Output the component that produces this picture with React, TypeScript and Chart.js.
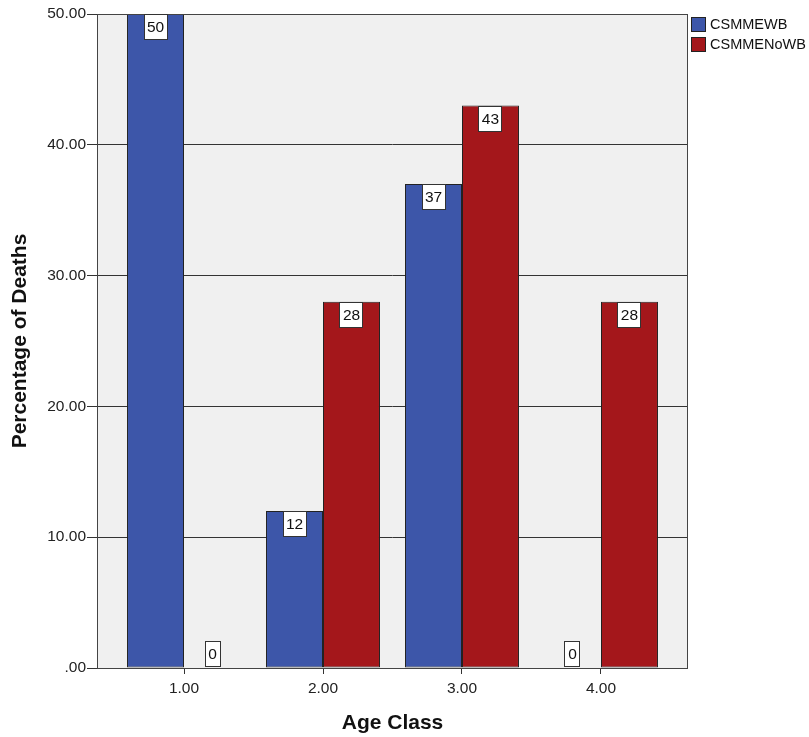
import React, { useEffect, useRef } from "react";
import { Chart, registerables } from "chart.js";

Chart.register(...registerables);

const categories = [1, 2, 3, 4];
const csmmewb = [50, 12, 37, 0];
const csmmenowb = [0, 28, 43, 28];
const seriesNames = ["CSMMEWB", "CSMMENoWB"];
const seriesColors = ["#3d56a9", "#a4171b"];
const yTicks = [0, 10, 20, 30, 40, 50];

const FONT = 'Arial, "Liberation Sans", sans-serif';

const plotPlugin = {
  id: "plotDecor",
  beforeDraw(chart: any) {
    const { ctx, chartArea: a } = chart;
    ctx.save();
    ctx.fillStyle = "#f0f0f0";
    ctx.fillRect(a.left, a.top, a.right - a.left, a.bottom - a.top);
    ctx.restore();
  },
  afterDatasetsDraw(chart: any) {
    const { ctx, chartArea: a } = chart;
    ctx.save();
    ctx.strokeStyle = "#444";
    ctx.lineWidth = 1;
    ctx.strokeRect(a.left + 0.5, a.top + 0.5, a.right - a.left - 1, a.bottom - a.top);
    // data labels
    ctx.font = "15.5px " + FONT;
    ctx.textAlign = "center";
    ctx.textBaseline = "middle";
    chart.data.datasets.forEach((ds: any, di: number) => {
      const meta = chart.getDatasetMeta(di);
      meta.data.forEach((bar: any, i: number) => {
        const v = ds.data[i].y;
        const txt = String(v);
        const w = Math.round(ctx.measureText(txt).width + 7);
        const h = 26;
        const x = Math.round(bar.x - w / 2);
        let top;
        if (v === 0) top = Math.round(bar.base) - h - 1;
        else top = Math.round(bar.y);
        ctx.fillStyle = "#ffffff";
        ctx.fillRect(x, top, w, h);
        ctx.strokeStyle = "#333";
        ctx.strokeRect(x + 0.5, top + 0.5, w - 1, h - 1);
        ctx.fillStyle = "#111";
        ctx.fillText(txt, bar.x, top + h / 2 + 1);
      });
    });
    // legend
    ctx.font = "14.5px " + FONT;
    ctx.textAlign = "left";
    seriesNames.forEach((name, i) => {
      const bx = a.right + 3;
      const by = 17 + i * 20;
      ctx.fillStyle = seriesColors[i];
      ctx.fillRect(bx, by, 15, 15);
      ctx.strokeStyle = "#222";
      ctx.strokeRect(bx + 0.5, by + 0.5, 14, 14);
      ctx.fillStyle = "#111";
      ctx.fillText(name, bx + 19, by + 8);
    });
    ctx.restore();
  },
};

export default function App() {
  const ref = useRef<HTMLCanvasElement>(null);
  useEffect(() => {
    if (!ref.current) return;
    const mk = (vals: number[]) => categories.map((c, i) => ({ x: c, y: vals[i] }));
    const chart = new Chart(ref.current, {
      type: "bar",
      data: {
        datasets: [
          {
            label: seriesNames[0],
            data: mk(csmmewb),
            backgroundColor: seriesColors[0],
            borderColor: "#222",
            borderWidth: 1,
            borderSkipped: false,
          },
          {
            label: seriesNames[1],
            data: mk(csmmenowb),
            backgroundColor: seriesColors[1],
            borderColor: "#222",
            borderWidth: 1,
            borderSkipped: false,
          },
        ],
      },
      options: {
        responsive: false,
        animation: false,
        layout: { padding: { top: 14, right: 121, left: 0, bottom: 0 } },
        datasets: { bar: { categoryPercentage: 0.82, barPercentage: 1.0 } },
        plugins: { legend: { display: false }, tooltip: { enabled: false } },
        scales: {
          x: {
            type: "linear",
            min: 0.374,
            max: 4.626,
            offset: false,
            afterBuildTicks: (s: any) => {
              s.ticks = categories.map((v) => ({ value: v }));
            },
            afterFit: (s: any) => {
              s.height = 69;
            },
            ticks: {
              callback: (v: any) => Number(v).toFixed(2),
              font: { family: FONT, size: 15.5 },
              color: "#222",
              padding: 5,
              autoSkip: false,
              maxRotation: 0,
            },
            grid: { drawOnChartArea: false, offset: false, tickLength: 6, tickColor: "#333" },
            border: { display: false },
            title: {
              display: true,
              text: "Age Class",
              font: { family: FONT, size: 21, weight: "bold" },
              color: "#111",
              padding: { top: 0, bottom: 1 },
            },
          },
          y: {
            min: 0,
            max: 50,
            afterBuildTicks: (s: any) => {
              s.ticks = yTicks.map((v) => ({ value: v }));
            },
            afterFit: (s: any) => {
              s.width = 97;
            },
            ticks: {
              callback: (v: any) => (Number(v) === 0 ? ".00" : Number(v).toFixed(2)),
              font: { family: FONT, size: 15.5 },
              color: "#222",
              padding: 1,
            },
            grid: { color: "#333", tickLength: 10, tickColor: "#333" },
            border: { display: false },
            title: {
              display: true,
              text: "Percentage of Deaths",
              font: { family: FONT, size: 21, weight: "bold" },
              color: "#111",
              padding: { top: 8, bottom: 0 },
            },
          },
        },
      },
      plugins: [plotPlugin],
    });
    return () => chart.destroy();
  }, []);
  return (
    <div style={{ position: "absolute", left: 0, top: 0, width: 809, height: 737, background: "#fff" }}>
      <canvas ref={ref} width={809} height={737} />
    </div>
  );
}
